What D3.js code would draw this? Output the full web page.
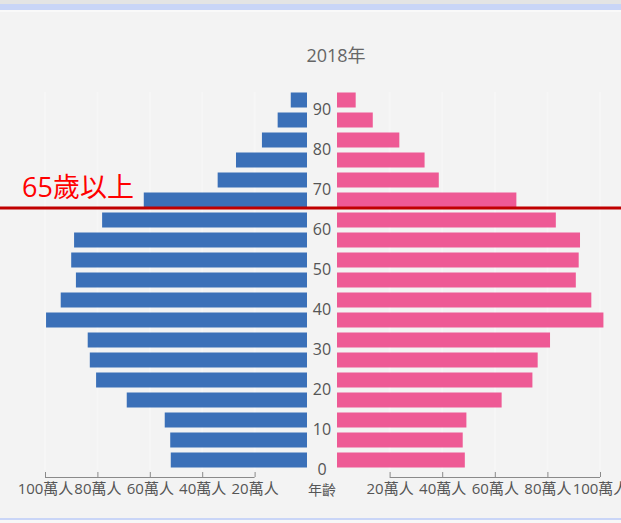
<!DOCTYPE html>
<html>
<head>
<meta charset="utf-8">
<script src="https://cdn.jsdelivr.net/npm/d3@7"></script>
<style>
  html, body { margin: 0; padding: 0; background: #f3f3f3; }
  svg { display: block; }
  text { font-family: "Open Sans", "Noto Sans CJK TC", sans-serif; }
</style>
</head>
<body>
<svg id="chart" width="621" height="523"></svg>
<script>
// ---- data ----
const title = "2018年";
const ageStarts = [0, 5, 10, 15, 20, 25, 30, 35, 40, 45, 50, 55, 60, 65, 70, 75, 80, 85, 90];
const ageGroups = ["0-4","5-9","10-14","15-19","20-24","25-29","30-34","35-39","40-44","45-49","50-54","55-59","60-64","65-69","70-74","75-79","80-84","85-89","90+"];
// population in 萬人
const male   = [52.0, 52.2, 54.3, 68.8, 80.5, 82.9, 83.7, 99.6, 94.0, 88.2, 90.0, 88.9, 78.2, 62.3, 34.1, 27.1, 17.2, 11.2, 6.2];
const female = [48.6, 47.8, 49.2, 62.6, 74.3, 76.3, 81.0, 101.3, 96.7, 90.8, 91.9, 92.4, 83.2, 68.2, 38.7, 33.3, 23.7, 13.6, 7.1];
const popTicks = [20, 40, 60, 80, 100];
const ageTicks = [0, 10, 20, 30, 40, 50, 60, 70, 80, 90];
const ageAxisTitle = "年齡";
const markAge = 65;
const markLabel = "65歲以上";

// ---- layout ----
const W = 621, H = 523;
const svg = d3.select("#chart");

// frame
svg.append("rect").attr("x",0).attr("y",0).attr("width",W).attr("height",H).attr("fill","#f3f3f3");
svg.append("rect").attr("x",0).attr("y",0).attr("width",W).attr("height",4).attr("fill","#e4e4e4");
svg.append("rect").attr("x",0).attr("y",4).attr("width",W).attr("height",6).attr("fill","#c9d5f7");
svg.append("rect").attr("x",0).attr("y",10).attr("width",W).attr("height",2).attr("fill","#f9f9f9");
svg.append("rect").attr("x",0).attr("y",518).attr("width",W).attr("height",2).attr("fill","#c9d5f7");
svg.append("rect").attr("x",0).attr("y",520).attr("width",W).attr("height",3).attr("fill","#f7f7f7");

const xL = d3.scaleLinear().domain([0, 100]).range([307, 45]);
const xR = d3.scaleLinear().domain([0, 100]).range([337, 600]);
const y = d3.scaleLinear().domain([0, 90]).range([470, 110]);
const barH = 15;

// faint gridlines
const grid = svg.append("g");
popTicks.forEach(t => {
  [xL(t), xR(t)].forEach(px => {
    grid.append("line").attr("x1", px).attr("x2", px).attr("y1", 92).attr("y2", 470)
      .attr("stroke", "#f6f6f6").attr("stroke-width", 2);
  });
});

// title
svg.append("text").attr("x", 336).attr("y", 62).attr("text-anchor", "middle")
  .attr("font-size", 18).attr("fill", "#666").text(title);

// bars
const rows = ageStarts.map((a, i) => ({a, g: ageGroups[i], m: male[i], f: female[i]}));
const bandMid = d => (y(d.a) + y(d.a + 5)) / 2;

svg.append("g").selectAll("rect").data(rows).join("rect")
  .attr("x", d => xL(d.m)).attr("width", d => xL(0) - xL(d.m))
  .attr("y", d => bandMid(d) - barH / 2).attr("height", barH)
  .attr("fill", "#3b70b8");

svg.append("g").selectAll("rect").data(rows).join("rect")
  .attr("x", xR(0)).attr("width", d => xR(d.f) - xR(0))
  .attr("y", d => bandMid(d) - barH / 2).attr("height", barH)
  .attr("fill", "#ee5a95");

// population axes
const axisY = 477;
function popAxis(scale) {
  const g = svg.append("g").attr("transform", `translate(0,${axisY})`)
    .call(d3.axisBottom(scale).tickValues(popTicks).tickSize(-5).tickPadding(6)
      .tickFormat(d => d + "萬人"));
  g.select(".domain").remove();
  g.selectAll(".tick line").attr("stroke", "#8a8a8a");
  g.selectAll(".tick text").attr("font-size", 15).attr("fill", "#555")
    .style("font-family", '"Open Sans", "Noto Sans CJK TC", sans-serif');
  g.append("line").attr("x1", scale(20)).attr("x2", scale(100)).attr("y1", 0.5).attr("y2", 0.5)
    .attr("stroke", "#8a8a8a");
}
popAxis(xL);
popAxis(xR);

// age axis (center labels)
const ag = svg.append("g").attr("transform", "translate(322,0)")
  .call(d3.axisRight(y).tickValues(ageTicks).tickSize(0).tickPadding(0));
ag.select(".domain").remove();
ag.selectAll(".tick text").attr("text-anchor", "middle").attr("x", 0).attr("dy", "0.3em")
  .attr("font-size", 16).attr("fill", "#555")
  .style("font-family", '"Open Sans", "Noto Sans CJK TC", sans-serif');

svg.append("text").attr("x", 322).attr("y", 495).attr("text-anchor", "middle")
  .attr("font-size", 14).attr("fill", "#555").text(ageAxisTitle);

// 65+ marker
const markY = y(markAge) - 2;
svg.append("line").attr("x1", 0).attr("x2", W).attr("y1", markY).attr("y2", markY)
  .attr("stroke", "#c00000").attr("stroke-width", 3);
svg.append("text").attr("x", 22).attr("y", 197).attr("font-size", 27)
  .attr("fill", "#ff0000").text(markLabel);
</script>
</body>
</html>
